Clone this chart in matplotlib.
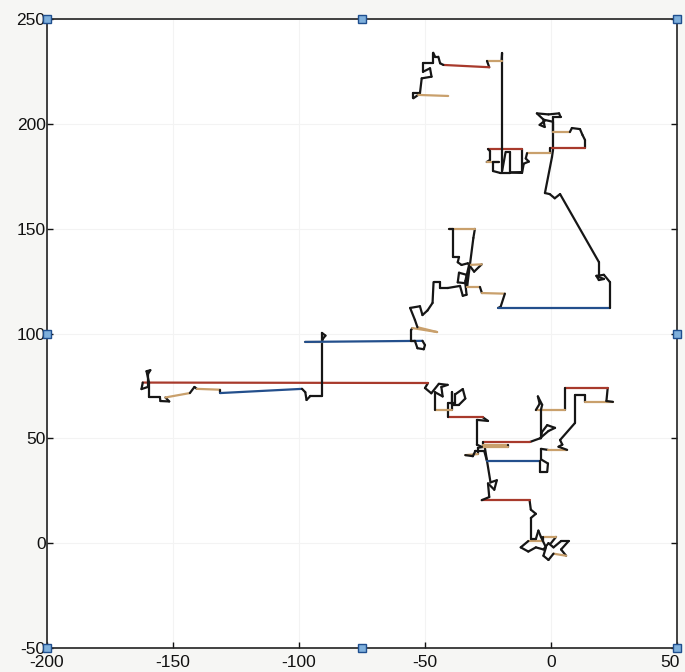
import numpy as np
import matplotlib
matplotlib.use("Agg")
import matplotlib.pyplot as plt
from matplotlib.collections import LineCollection
from matplotlib.transforms import ScaledTranslation

# walk, in order, split in pieces
origin_loop = [(0, 0), (2, 3), (-3, 3), (-3, 1), (-9, 1), (-12, -2), (-9, -4), (-6, -2),
               (-3, -3), (-1, 0), (1, -2), (4, 1), (7, 1), (4, -3), (6, -6), (1, -5),
               (-1, -8), (-3, -6), (-2, -2), (-4, 3), (-5, 6), (-6, 2), (-8, 2), (-8, 12),
               (-6, 14), (-8, 16), (-8.5, 20.5)]
climb_to_middle = [(-27.5, 20.5), (-24.5, 22), (-25, 28.5), (-22.5, 25.5), (-21.5, 30),
                   (-24, 29), (-26.3, 46)]
middle_cluster = [(-29, 45.5), (-29, 42.5), (-34, 42), (-31, 41.5), (-30, 44), (-26.5, 44),
                  (-25.4, 39.2), (-4.4, 39.2), (-4.4, 34), (-1.5, 34), (-1.2, 38), (-4, 40),
                  (-4, 45), (-1.2, 44.5), (6.4, 44.5), (3, 46), (4.5, 47), (3.6, 49.2),
                  (9.5, 57.3), (9.5, 70.7), (13.5, 70.7), (13.5, 67.4), (24.6, 67.4),
                  (22, 67.8), (22.5, 74), (5.6, 74), (5.6, 63.5), (-6, 63.5), (-4.5, 66.5),
                  (-5.2, 70), (-3.5, 66), (-4, 63.5), (-4, 50), (-3.6, 53), (-1.5, 56.3),
                  (1.6, 55), (-1, 53.5), (-4.4, 50), (-8.3, 48.3), (-27, 48.3), (-27, 47),
                  (-17, 47), (-17, 45.9), (-27.4, 45.9), (-29.4, 47), (-29.4, 58.8),
                  (-25, 58.3), (-27, 60)]
stairs = [(-41, 60), (-41, 67), (-38, 67), (-38, 71), (-35, 73.5), (-34, 69), (-36.5, 66),
          (-39.3, 66), (-39.3, 72), (-39.3, 63.5), (-46, 63.5), (-46, 72), (-43, 70),
          (-43.5, 74.5), (-41, 75.5), (-44.5, 76), (-47.5, 71.5), (-50, 74), (-48.8, 76.4)]
far_left = [(-162, 76.6), (-162.5, 73.5), (-160, 74.5), (-160, 80.5), (-159, 82.5),
            (-160.5, 82), (-159.5, 76.6), (-159.5, 69.7), (-155.2, 69.7), (-155, 67.8),
            (-151.5, 67.6), (-153, 69.5), (-143.3, 71.6), (-141.5, 74.5), (-140.5, 73.6),
            (-131.3, 73.2), (-131.3, 71.6), (-98.8, 73.6), (-97.5, 72), (-97, 68.3),
            (-95.5, 70.2), (-90.9, 70.2), (-90.9, 100.3), (-89.5, 99), (-90.5, 97.5),
            (-90.9, 96), (-97.6, 96)]
upper_middle = [(-51, 96.5), (-50, 94.5), (-50.5, 92.5), (-53, 93), (-54, 96.5),
                (-55.5, 96.5), (-55.5, 101.7), (-55, 102.6), (-45.2, 100.7), (-53, 103),
                (-54, 106.5), (-55.9, 112.2), (-52, 113), (-51, 108.8), (-49, 111),
                (-47, 114.6), (-46.6, 124.5), (-44, 124.5), (-44, 121.7), (-41, 121.7),
                (-36.1, 122.7), (-35, 118), (-33.5, 118.5), (-34, 124), (-37, 124.4),
                (-36.5, 129), (-33.5, 128), (-33.3, 122.2), (-30.8, 145.6), (-30.2, 149.9),
                (-40.5, 149.9), (-38.9, 149.9), (-38.9, 136.5), (-36.5, 136.5), (-37, 134),
                (-35.5, 132.7), (-33, 133.5), (-30.5, 129.5), (-27.5, 133), (-32.5, 132.7),
                (-34, 125), (-33.3, 122.2), (-28.2, 122.2), (-27.4, 119.3), (-18.3, 119),
                (-20, 112.7), (-21, 112.2), (23.4, 112.2), (23.4, 124.5), (21, 128),
                (18, 127.5), (19, 125.5), (21, 126), (19, 127), (19, 134.1)]
top_right = [(3.6, 166.5), (1.5, 164.5), (-0.5, 166.5), (-2.4, 167), (0.4, 184.2),
             (0.8, 187.5), (0.8, 203.3), (3.8, 203.3), (3.2, 205), (-1, 204.5), (-5.6, 205),
             (-2.5, 201.5), (-4.5, 199.5), (-2.5, 198.5), (-3, 202), (0.8, 201), (0.8, 196.1),
             (7.5, 196.1), (8.3, 198), (11.5, 197.5), (12.5, 194.7), (13.5, 192.3),
             (13.5, 188.5), (-0.4, 188.5), (-0.4, 186), (-9.5, 186), (-10, 183.5),
             (-8.8, 182), (-10.8, 181), (-11.5, 176.6), (-16.3, 176.8), (-11.5, 177),
             (-11.5, 188), (-25, 188), (-24.2, 187), (-24.2, 182.8), (-25.5, 181.8),
             (-20.5, 181.8), (-23, 181.8), (-23, 177.5), (-20.2, 176.6), (-16.3, 176.6),
             (-16.3, 186.6), (-18, 186.6), (-19.4, 177.5), (-19.4, 233.8)]
top_left = [(-19.6, 230), (-25.4, 230), (-24.5, 227), (-42.7, 228.1), (-44, 228.9),
            (-44.7, 232), (-46, 232), (-46.7, 233.9), (-46.7, 228.9), (-50.7, 228.9),
            (-50.7, 224.9), (-48, 226.5), (-47.4, 222.5), (-51.3, 221.7), (-52, 214.6),
            (-54.6, 214.6), (-54.6, 212.2), (-52.7, 213.8), (-40.8, 213.3)]

x_ticks = [-200, -150, -100, -50, 0, 50]
y_ticks = [-50, 0, 50, 100, 150, 200, 250]

BLACK = "#161616"
RED = "#a83a2c"
BLUE = "#234f8c"
TAN = "#c9a06c"


def step_color(dx, dy):
    # flat steps get colour, the rest stays black
    if abs(dx) <= 2.5 * abs(dy) or abs(dx) < 5:
        return BLACK
    if abs(dx) < 12:
        return TAN
    return RED if dx < 0 else BLUE


def main():
    walk = np.array(origin_loop + climb_to_middle + middle_cluster + stairs + far_left
                    + upper_middle + top_right + top_left)
    segs = np.stack([walk[:-1], walk[1:]], axis=1)
    d = walk[1:] - walk[:-1]
    colors = [step_color(dx, dy) for dx, dy in d]

    plt.rcParams["font.family"] = ["Liberation Sans", "DejaVu Sans"]
    plt.rcParams["axes.unicode_minus"] = False
    fig = plt.figure(figsize=(6.85, 6.72), dpi=100, facecolor="#f6f6f4")
    ax = fig.add_axes([0.0686, 0.0357, 0.9197, 0.936])
    ax.set_facecolor("white")

    lc = LineCollection(segs, colors=colors, linewidths=1.6, capstyle="round",
                        joinstyle="round", zorder=3)
    ax.add_collection(lc)

    ax.set_xlim(-200, 50)
    ax.set_ylim(-50, 250)
    ax.set_xticks(x_ticks)
    ax.set_yticks(y_ticks)
    ax.grid(True, color="#f3f3f3", lw=0.8)
    ax.set_axisbelow(True)
    ax.tick_params(direction="in", length=4, width=1, labelsize=12.5,
                   right=True, top=False, colors="#111111")
    ax.tick_params(axis="x", pad=5)
    ax.tick_params(axis="y", pad=1)
    for sp in ax.spines.values():
        sp.set_linewidth(1.2)
        sp.set_color("#222222")

    # last x label sits a little to the left, as in the source
    last = ax.get_xticklabels()[-1]
    last.set_transform(last.get_transform() + ScaledTranslation(-5 / 72, 0, fig.dpi_scale_trans))

    # square handles on the frame
    hx = [-200, -200, -200, -75, 50, 50, 50, -75]
    hy = [-50, 100, 250, 250, 250, 100, -50, -50]
    ax.plot(hx, hy, "s", ms=6, mfc="#7fb0dc", mec="#1f4f8f", mew=1.0,
            clip_on=False, zorder=6, ls="none")

    fig.savefig("out.png", dpi=100, facecolor=fig.get_facecolor())
    plt.close(fig)


if __name__ == "__main__":
    main()
